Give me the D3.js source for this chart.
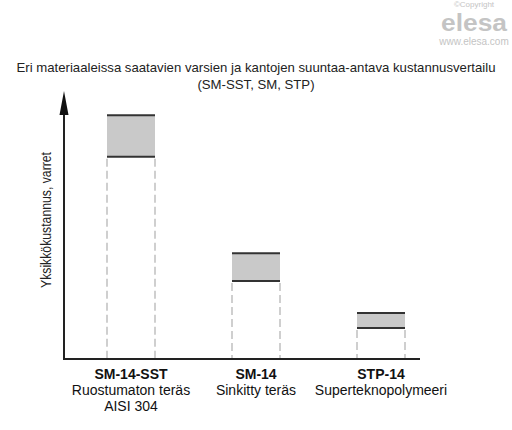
<!DOCTYPE html>
<html>
<head>
<meta charset="utf-8">
<script src="https://cdn.jsdelivr.net/npm/d3@7"></script>
<style>
  html, body { margin: 0; padding: 0; background: #fff; }
  svg { display: block; }
  text { font-family: "Liberation Sans", Arial, sans-serif; }
</style>
</head>
<body>
<svg id="chart" width="512" height="430"></svg>
<script>
// ---- data ----
const titleLines = [
  "Eri materiaaleissa saatavien varsien ja kantojen suuntaa-antava kustannusvertailu",
  "(SM-SST, SM, STP)"
];
const yAxisLabel = "Yksikkökustannus, varret";
const categories = ["SM-14-SST", "SM-14", "STP-14"];
const categorySubLabels = [
  ["Ruostumaton teräs", "AISI 304"],
  ["Sinkitty teräs"],
  ["Superteknopolymeeri"]
];
const costLow  = [83, 32, 12.7];    // lower bound of relative cost range
const costHigh = [100, 43.4, 18.9]; // upper bound of relative cost range
const yMax = 110;

// ---- layout ----
const svg = d3.select("#chart");
const x0 = 64, xEnd = 420, yBase = 359, yTop = 91;

const x = d3.scaleBand().domain(categories).range([68.5, 443.5])
  .paddingInner(0.616).paddingOuter(0.308);
const y = d3.scaleLinear().domain([0, yMax]).range([yBase, yTop]);

// watermark
const wm = svg.append("g").attr("fill", "#c4c4c4").attr("text-anchor", "middle");
wm.append("text").attr("x", 474).attr("y", 7).attr("font-size", 8).text("©Copyright");
wm.append("text").attr("x", 474).attr("y", 31).attr("font-size", 23).attr("font-weight", "bold")
  .attr("textLength", 66).attr("lengthAdjust", "spacingAndGlyphs").text("elesa");
wm.append("text").attr("x", 474).attr("y", 45).attr("font-size", 10).text("www.elesa.com");

// title (condensed to match the reference)
const titles = svg.append("g").selectAll("text").data(titleLines).join("text")
  .attr("x", 256).attr("y", (d, i) => 72 + i * 17)
  .attr("text-anchor", "middle").attr("font-size", 13.5).attr("fill", "#222")
  .text(d => d);
const natural0 = titles.nodes()[0].getComputedTextLength();
const ratio = Math.min(1, 479 / natural0);
titles.each(function () {
  const w = this.getComputedTextLength();
  d3.select(this).attr("textLength", w * ratio).attr("lengthAdjust", "spacingAndGlyphs");
});

// bars
const g = svg.append("g");
categories.forEach((c, i) => {
  const xl = x(c), xr = x(c) + x.bandwidth();
  g.append("rect").attr("x", xl).attr("y", y(costHigh[i]))
    .attr("width", x.bandwidth()).attr("height", y(costLow[i]) - y(costHigh[i]))
    .attr("fill", "#c9c9c9");
  [costHigh[i], costLow[i]].forEach(v => {
    g.append("line").attr("x1", xl).attr("x2", xr).attr("y1", y(v)).attr("y2", y(v))
      .attr("stroke", "#333").attr("stroke-width", 2);
  });
  [xl, xr].forEach(xx => {
    g.append("line").attr("x1", xx).attr("x2", xx).attr("y1", y(costLow[i]) + 2).attr("y2", yBase)
      .attr("stroke", "#b0b0b0").attr("stroke-width", 1.2).attr("stroke-dasharray", "8,4");
  });
});

// axes
svg.append("line").attr("x1", x0).attr("x2", xEnd).attr("y1", yBase).attr("y2", yBase)
  .attr("stroke", "#222").attr("stroke-width", 2);
svg.append("line").attr("x1", x0).attr("x2", x0).attr("y1", yBase + 1).attr("y2", yTop + 20)
  .attr("stroke", "#222").attr("stroke-width", 2);
svg.append("path")
  .attr("d", `M${x0},${yTop} L${x0 - 4.5},${yTop + 24} L${x0 + 4.5},${yTop + 24} Z`)
  .attr("fill", "#111");

// y label
svg.append("text").attr("transform", `translate(51,220) rotate(-90)`)
  .attr("text-anchor", "middle").attr("font-size", 14.5).attr("fill", "#222")
  .attr("textLength", 136).attr("lengthAdjust", "spacingAndGlyphs")
  .text(yAxisLabel);

// category labels
const lab = svg.append("g").attr("text-anchor", "middle").attr("fill", "#111");
categories.forEach((c, i) => {
  const cx = x(c) + x.bandwidth() / 2;
  lab.append("text").attr("x", cx).attr("y", 379).attr("font-size", 14)
    .attr("font-weight", "bold").text(c);
  categorySubLabels[i].forEach((s, j) => {
    lab.append("text").attr("x", cx).attr("y", 395 + j * 16).attr("font-size", 14).text(s);
  });
});
</script>
</body>
</html>
